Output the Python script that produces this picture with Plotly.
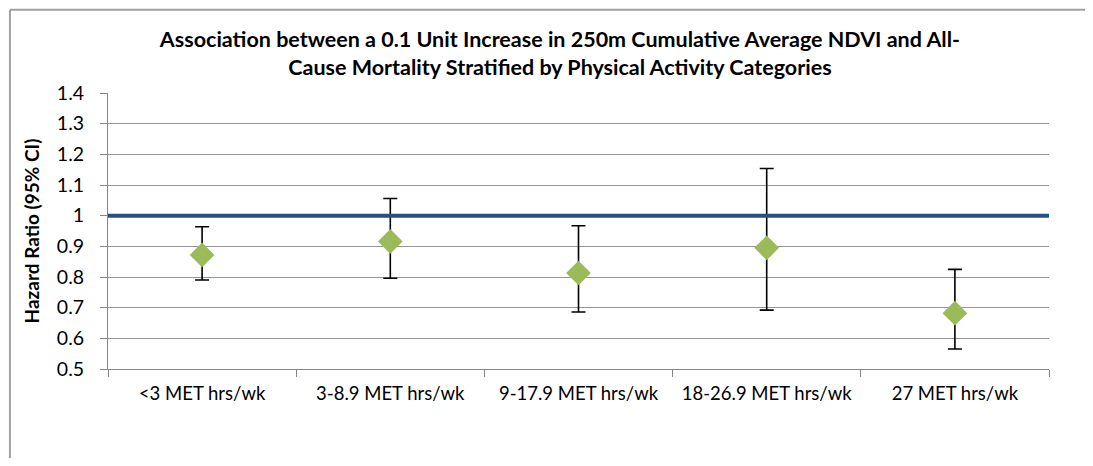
import plotly.graph_objects as go

categories = ["<3 MET hrs/wk", "3-8.9 MET hrs/wk", "9-17.9 MET hrs/wk", "18-26.9 MET hrs/wk", "27 MET hrs/wk"]
hazard_ratio = [0.872, 0.916, 0.813, 0.895, 0.682]
ci_upper = [0.964, 1.056, 0.967, 1.154, 0.825]
ci_lower = [0.790, 0.796, 0.686, 0.692, 0.565]
reference_value = 1.0
y_ticks = [0.5, 0.6, 0.7, 0.8, 0.9, 1.0, 1.1, 1.2, 1.3, 1.4]
y_tick_labels = ["0.5", "0.6", "0.7", "0.8", "0.9", "1", "1.1", "1.2", "1.3", "1.4"]

err_plus = [u - v for u, v in zip(ci_upper, hazard_ratio)]
err_minus = [v - l for v, l in zip(hazard_ratio, ci_lower)]

FONT = "Lato, 'Open Sans', 'Liberation Sans', sans-serif"

fig = go.Figure()
fig.add_trace(go.Scatter(
    x=categories, y=hazard_ratio, mode="markers",
    marker=dict(symbol="diamond", size=19, color="#9BBB59", line=dict(width=0)),
    error_y=dict(type="data", symmetric=False, array=err_plus, arrayminus=err_minus,
                 color="#000000", thickness=1.6, width=7),
    showlegend=False,
))

fig.add_shape(type="line", xref="paper", yref="y", x0=0, x1=1,
              y0=reference_value, y1=reference_value,
              line=dict(color="#254F85", width=4), layer="above")

# outer chart border (only top and left edges are visible in the frame)
fig.add_shape(type="line", xref="paper", yref="paper",
              x0=-0.1042, x1=1.2, y0=1.302, y1=1.302,
              line=dict(color="#A0A0A0", width=2))
fig.add_shape(type="line", xref="paper", yref="paper",
              x0=-0.1042, x1=-0.1042, y0=-0.5, y1=1.302,
              line=dict(color="#A0A0A0", width=2))

fig.update_layout(
    width=1077, height=450,
    margin=dict(l=100, r=36, t=85, b=89),
    paper_bgcolor="white", plot_bgcolor="white",
    font=dict(family=FONT, color="#000000", size=18),
    title=dict(
        text="<b>Association between a 0.1 Unit Increase in 250m Cumulative Average NDVI and All-<br>Cause Mortality Stratified by Physical Activity Categories</b>",
        x=0.5125, xref="container", xanchor="center",
        y=1 - 39.0 / 450, yref="container", yanchor="top",
        font=dict(family=FONT, size=21.5, color="#000000"),
    ),
    xaxis=dict(
        type="category", range=[-0.5, 4.5], tickson="boundaries",
        ticks="outside", ticklen=7, tickcolor="#868686",
        showline=True, linecolor="#868686", linewidth=1,
        showgrid=False, tickfont=dict(size=18.5, family=FONT),
        ticklabelstandoff=8,
        fixedrange=True,
    ),
    yaxis=dict(
        range=[0.5, 1.4], tickvals=y_ticks, ticktext=y_tick_labels,
        ticks="outside", ticklen=7, tickcolor="#868686",
        showline=True, linecolor="#868686", linewidth=1,
        showgrid=True, gridcolor="#969696", gridwidth=1.2,
        zeroline=False, tickfont=dict(size=19.5, family=FONT),
        ticklabelstandoff=12,
        title=dict(text="<b>Hazard Ratio (95% CI)</b>", standoff=12,
                   font=dict(size=19, family=FONT)),
    ),
)

fig.write_html("out.html")
